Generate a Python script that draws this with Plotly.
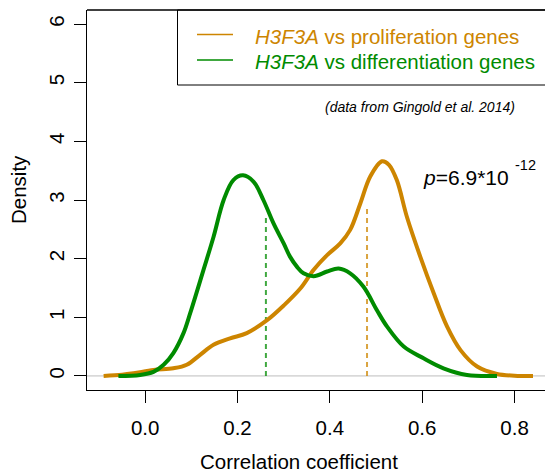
import plotly.graph_objects as go

# ---- data ----
prolif_x = [-0.090, -0.05, -0.025, 0.018, 0.061, 0.090, 0.119, 0.148, 0.184, 0.220, 0.264,
            0.300, 0.336, 0.365, 0.394, 0.4225, 0.444, 0.466, 0.4875, 0.513, 0.528, 0.545,
            0.567, 0.596, 0.625, 0.654, 0.683, 0.719, 0.762, 0.80, 0.840]
prolif_y = [0.0, 0.02, 0.045, 0.10, 0.13, 0.19, 0.36, 0.53, 0.64, 0.73, 0.95,
            1.20, 1.49, 1.81, 2.06, 2.26, 2.49, 2.94, 3.40, 3.66, 3.60, 3.34,
            2.71, 2.03, 1.41, 0.84, 0.44, 0.16, 0.034, 0.005, 0.0]

diff_x = [-0.058, -0.011, 0.018, 0.040, 0.061, 0.083, 0.0975, 0.126, 0.148, 0.170, 0.191,
          0.212, 0.235, 0.256, 0.278, 0.300, 0.314, 0.329, 0.343, 0.365, 0.394, 0.419,
          0.444, 0.473, 0.502, 0.524, 0.560, 0.603, 0.646, 0.697, 0.762]
diff_y = [0.0, 0.017, 0.07, 0.19, 0.39, 0.73, 1.07, 1.80, 2.37, 3.00, 3.34,
          3.42, 3.31, 3.00, 2.60, 2.26, 2.03, 1.86, 1.75, 1.70, 1.78, 1.83,
          1.75, 1.52, 1.12, 0.84, 0.50, 0.30, 0.13, 0.017, 0.0]

median_x = {"prolif": 0.4805, "diff": 0.2615}
median_h = {"prolif": 2.91, "diff": 2.74}

x_ticks = [0.0, 0.2, 0.4, 0.6, 0.8]
x_tick_labels = ["0.0", "0.2", "0.4", "0.6", "0.8"]
y_ticks = [0, 1, 2, 3, 4, 5, 6]
y_tick_labels = ["0", "1", "2", "3", "4", "5", "6"]

ORANGE = "#CD8500"
GREEN = "#008B00"
FONT = "Liberation Sans, Arial, sans-serif"

# plot area in pixels
W, H = 545, 476
L, R, T, B = 87, 545, 10, 390


def px(xp):
    return (xp - L) / (R - L)


def py(yp):
    return (B - yp) / (B - T)


fig = go.Figure()

# dashed median lines
fig.add_trace(go.Scatter(x=[median_x["diff"], median_x["diff"]], y=[0, median_h["diff"]],
                         mode="lines", line=dict(color="rgba(0,139,0,0.75)", width=2, dash="5px,4px"),
                         showlegend=False, hoverinfo="skip"))
fig.add_trace(go.Scatter(x=[median_x["prolif"], median_x["prolif"]], y=[0, median_h["prolif"]],
                         mode="lines", line=dict(color="rgba(205,133,0,0.75)", width=2, dash="5px,4px"),
                         showlegend=False, hoverinfo="skip"))

# density curves
fig.add_trace(go.Scatter(x=prolif_x, y=prolif_y, mode="lines",
                         line=dict(color=ORANGE, width=4, shape="spline", smoothing=1.0),
                         showlegend=False))
fig.add_trace(go.Scatter(x=diff_x, y=diff_y, mode="lines",
                         line=dict(color=GREEN, width=4, shape="spline", smoothing=1.0),
                         showlegend=False))

shapes = [
    # zero line
    dict(type="line", xref="paper", yref="y", x0=0, x1=1, y0=0, y1=0,
         line=dict(color="#BEBEBE", width=1), layer="below"),
    # top border of box
    dict(type="line", xref="paper", yref="paper", x0=0, x1=1.01, y0=1, y1=1,
         line=dict(color="black", width=1.3)),
    # legend box
    dict(type="rect", xref="paper", yref="paper", x0=px(177.5), x1=px(560), y0=py(85), y1=py(10),
         line=dict(color="black", width=1), fillcolor="rgba(0,0,0,0)"),
    # legend lines
    dict(type="line", xref="paper", yref="paper", x0=px(197), x1=px(233), y0=py(34.5), y1=py(34.5),
         line=dict(color=ORANGE, width=1.3)),
    dict(type="line", xref="paper", yref="paper", x0=px(197), x1=px(233), y0=py(60), y1=py(60),
         line=dict(color=GREEN, width=1.3)),
]

annotations = [
    dict(text="<i>H3F3A</i> vs proliferation genes", xref="paper", yref="paper",
         x=px(253), y=py(36), xanchor="left", yanchor="middle", showarrow=False,
         font=dict(family=FONT, size=20.5, color=ORANGE)),
    dict(text="<i>H3F3A</i> vs differentiation genes", xref="paper", yref="paper",
         x=px(253), y=py(62), xanchor="left", yanchor="middle", showarrow=False,
         font=dict(family=FONT, size=20.5, color=GREEN)),
    dict(text="<i>(data from Gingold et al. 2014)</i>", xref="paper", yref="paper",
         x=px(517), y=py(107), xanchor="right", yanchor="middle", showarrow=False,
         font=dict(family=FONT, size=14, color="black")),
    dict(text="<i>p</i>=6.9*10", xref="paper", yref="paper",
         x=px(421), y=py(177), xanchor="left", yanchor="middle", showarrow=False,
         font=dict(family=FONT, size=21, color="black")),
    dict(text="-12", xref="paper", yref="paper",
         x=px(512.5), y=py(165), xanchor="left", yanchor="middle", showarrow=False,
         font=dict(family=FONT, size=14.5, color="black")),
    # axis titles
    dict(text="Correlation coefficient", xref="paper", yref="paper",
         x=px(299), y=py(461), xanchor="center", yanchor="middle", showarrow=False,
         font=dict(family=FONT, size=20.5, color="black")),
    dict(text="Density", xref="paper", yref="paper", textangle=-90,
         x=px(18), y=py(190), xanchor="center", yanchor="middle", showarrow=False,
         font=dict(family=FONT, size=20.5, color="black")),
]

fig.update_layout(
    width=W, height=H,
    margin=dict(l=L, r=W - R, t=T, b=H - B, pad=0),
    paper_bgcolor="white", plot_bgcolor="white",
    shapes=shapes, annotations=annotations,
    showlegend=False,
    font=dict(family=FONT, color="black"),
)

fig.update_xaxes(range=[-0.126, 0.866], tickvals=x_ticks, ticktext=x_tick_labels,
                 ticks="outside", ticklen=12, tickwidth=1.3, tickcolor="black",
                 showline=True, linecolor="black", linewidth=1.3, showgrid=False, zeroline=False,
                 tickfont=dict(family=FONT, size=20.5, color="black"), ticklabelstandoff=7)
fig.update_yaxes(range=[-0.24, 6.24], tickvals=y_ticks, ticktext=y_tick_labels,
                 ticks="outside", ticklen=12, tickwidth=1.3, tickcolor="black",
                 showline=True, linecolor="black", linewidth=1.3, showgrid=False, zeroline=False,
                 tickangle=-90,
                 tickfont=dict(family=FONT, size=20.5, color="black"), ticklabelstandoff=2)

fig.write_html("out.html")
